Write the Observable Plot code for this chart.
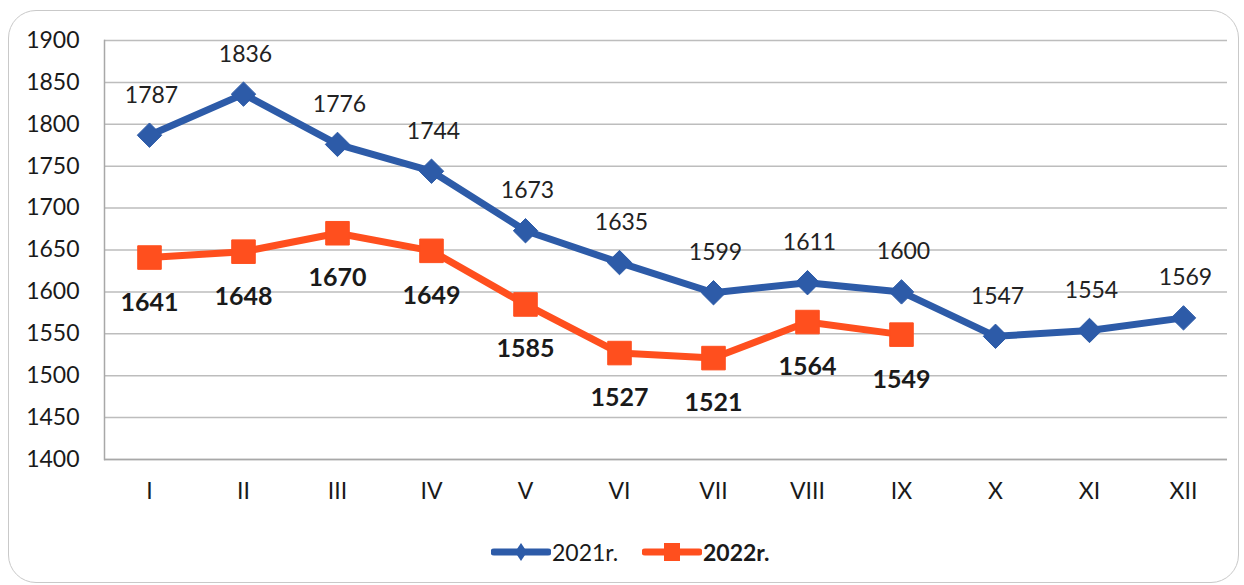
<!DOCTYPE html>
<html>
<head>
<meta charset="utf-8">
<script src="https://cdn.jsdelivr.net/npm/d3@7"></script>
<script src="https://cdn.jsdelivr.net/npm/@observablehq/plot@0.6"></script>
<style>
  html, body { margin: 0; padding: 0; background: #fff; }
  #wrap { position: relative; width: 1244px; height: 585px; overflow: hidden; font-family: Lato, "Open Sans", sans-serif; }
  #border { position: absolute; left: 8px; top: 10px; width: 1231px; height: 573px; border: 1.5px solid #c9c9c9; border-radius: 28px; box-sizing: border-box; }
  #chart { position: absolute; left: 0; top: 0; }
  #legend { position: absolute; left: 0; top: 534px; width: 1244px; height: 36px; font-size: 23px; color: #1a1a1a; }
  .item { display: flex; align-items: center; position: absolute; top: 0; height: 36px; }
</style>
</head>
<body>
<div id="wrap">
  <div id="border"></div>
  <div id="chart"></div>
  <div id="legend"></div>
</div>
<script>
const months = ["I", "II", "III", "IV", "V", "VI", "VII", "VIII", "IX", "X", "XI", "XII"];
const values2021 = [1787, 1836, 1776, 1744, 1673, 1635, 1599, 1611, 1600, 1547, 1554, 1569];
const values2022 = [1641, 1648, 1670, 1649, 1585, 1527, 1521, 1564, 1549];
const yTicks = [1400, 1450, 1500, 1550, 1600, 1650, 1700, 1750, 1800, 1850, 1900];
const seriesNames = ["2021r.", "2022r."];
const colors = ["#2d5ba8", "#ff4f1e"];

const d2021 = values2021.map((v, i) => ({month: months[i], value: v}));
const d2022 = values2022.map((v, i) => ({month: months[i], value: v}));

const chart = Plot.plot({
  width: 1244,
  height: 520,
  marginLeft: 104,
  marginRight: 17,
  marginTop: 40,
  marginBottom: 61,
  style: {fontFamily: "Lato, 'Open Sans', sans-serif", fontSize: "23px", color: "#1a1a1a", background: "transparent"},
  x: {type: "point", domain: months, padding: 0.47, label: null, tickSize: 0, tickPadding: 23},
  y: {domain: [1400, 1900], ticks: yTicks, tickFormat: "d", label: null, tickSize: 0, tickPadding: 25},
  marks: [
    Plot.ruleY(yTicks, {stroke: "#bdbdbd", strokeWidth: 1.5}),
    Plot.frame({anchor: "left", stroke: "#a8a8a8", strokeWidth: 1.5}),
    Plot.ruleY([1400], {stroke: "#a8a8a8", strokeWidth: 1.5}),
    Plot.line(d2021, {x: "month", y: "value", stroke: colors[0], strokeWidth: 7}),
    Plot.line(d2022, {x: "month", y: "value", stroke: colors[1], strokeWidth: 7}),
    Plot.dot(d2021, {x: "month", y: "value", symbol: "diamond2", r: 11, fill: colors[0], stroke: colors[0], strokeWidth: 1}),
    Plot.dot(d2022, {x: "month", y: "value", symbol: "square2", r: 15, fill: colors[1], stroke: colors[1], strokeWidth: 1}),
    Plot.text(d2021, {x: "month", y: "value", text: d => String(d.value), dy: -40, dx: 2, fill: "#222", fontSize: 23}),
    Plot.text(d2022, {x: "month", y: "value", text: d => String(d.value), dy: 45, fill: "#1a1a1a", fontSize: 25, fontWeight: "bold"})
  ]
});
document.getElementById("chart").appendChild(chart);

// legend
const legend = document.getElementById("legend");
function swatch(color, shape) {
  const ns = "http://www.w3.org/2000/svg";
  const svg = document.createElementNS(ns, "svg");
  svg.setAttribute("width", 60); svg.setAttribute("height", 30);
  const line = document.createElementNS(ns, "line");
  line.setAttribute("x1", 3); line.setAttribute("x2", 57); line.setAttribute("y1", 15); line.setAttribute("y2", 15);
  line.setAttribute("stroke", color); line.setAttribute("stroke-width", 7); line.setAttribute("stroke-linecap", "round");
  svg.appendChild(line);
  const m = document.createElementNS(ns, "path");
  m.setAttribute("d", shape === "diamond" ? "M30,6L36,15L30,24L24,15Z" : "M22,6H38V24H22Z");
  m.setAttribute("fill", color);
  svg.appendChild(m);
  return svg;
}
[[0, 491, "diamond", "normal"], [1, 642, "square", "bold"]].forEach(([i, left, shape, weight]) => {
  const it = document.createElement("div");
  it.className = "item";
  it.style.left = left + "px";
  it.appendChild(swatch(colors[i], shape));
  const t = document.createElement("span");
  t.textContent = seriesNames[i];
  t.style.fontWeight = weight;
  t.style.marginLeft = "1px";
  it.appendChild(t);
  legend.appendChild(it);
});
</script>
</body>
</html>
